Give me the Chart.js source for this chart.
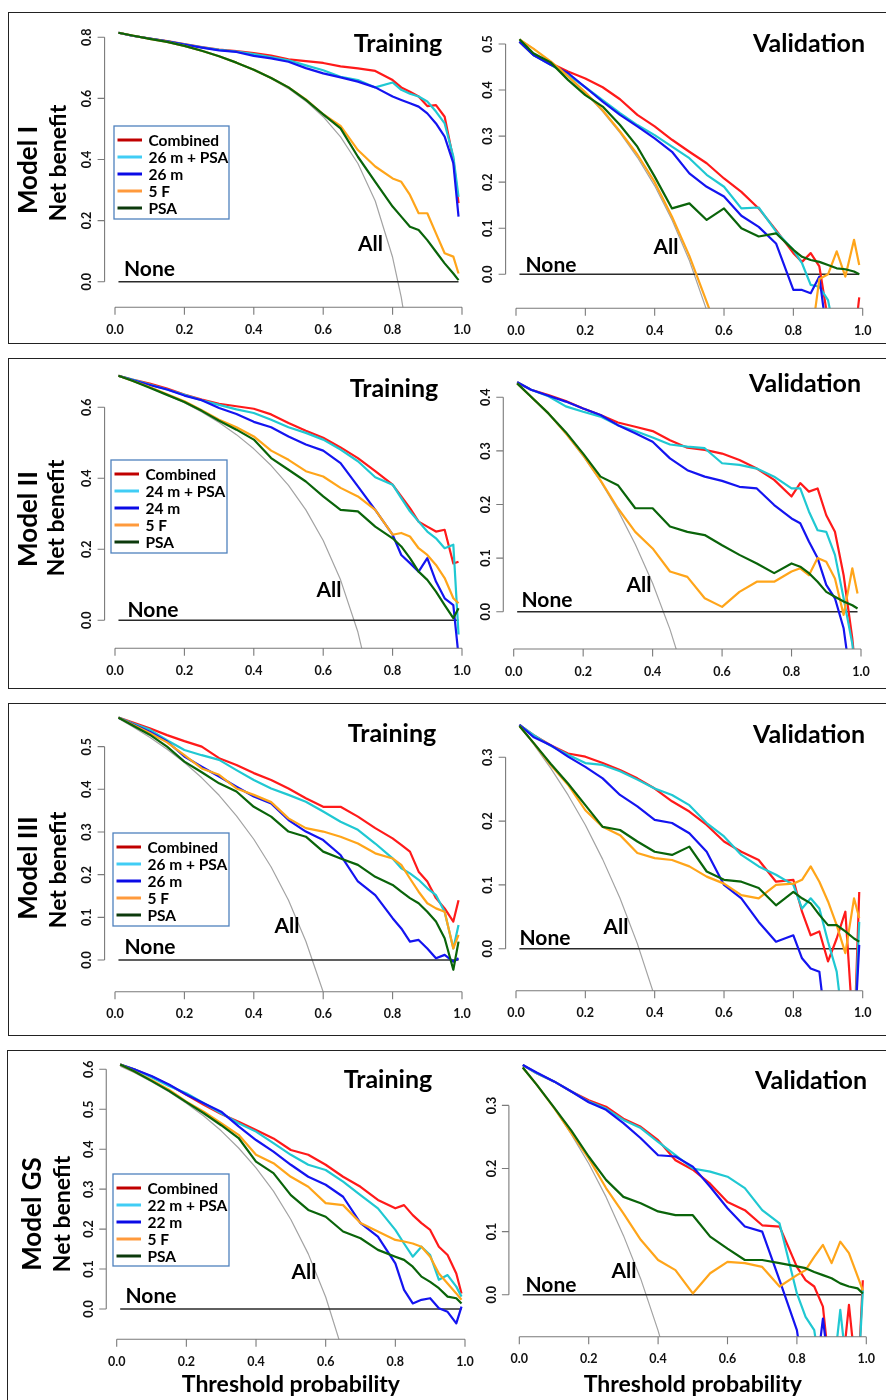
<!DOCTYPE html>
<html>
<head>
<meta charset="utf-8">
<script src="https://cdn.jsdelivr.net/npm/chart.js@4.4.1/dist/chart.umd.min.js"></script>
<style>
  body { margin: 0; background: #fff; width: 886px; height: 1400px; position: relative; overflow: hidden; }
  .box { position: absolute; box-sizing: border-box; border: 1.5px solid #222; width: 900px; }
  canvas { position: absolute; }
</style>
</head>
<body>
<div class="box" style="left:8px;top:12px;height:332px"></div>
<div class="box" style="left:8px;top:358px;height:331px"></div>
<div class="box" style="left:8px;top:703px;height:333px"></div>
<div class="box" style="left:7px;top:1050px;height:380px"></div>

<script>
const thresholds = [0.01, 0.05, 0.1, 0.15, 0.2, 0.25, 0.3, 0.35, 0.4, 0.45, 0.5, 0.55, 0.6, 0.65, 0.7, 0.75, 0.8, 0.825, 0.85, 0.875, 0.9, 0.925, 0.95, 0.975, 0.99];

const xTicks = [0, 0.2, 0.4, 0.6, 0.8, 1.0];
const modelNames = ["Model I", "Model II", "Model III", "Model GS"];
const panelTitles = ["Training", "Validation"];
const legendNames = [
  ["Combined", "26 m + PSA", "26 m", "5 F", "PSA"],
  ["Combined", "24 m + PSA", "24 m", "5 F", "PSA"],
  ["Combined", "26 m + PSA", "26 m", "5 F", "PSA"],
  ["Combined", "22 m + PSA", "22 m", "5 F", "PSA"]
];
const lineColors = ["#ff1a1a", "#20c8d2", "#1414f0", "#ffa51a", "#0a640a"];
const legendColors = ["#c00000", "#40cdf5", "#0a0ae6", "#ff9a3c", "#0c3a0c"];

// "None" reference line
const noneX = [0.01, 0.99];
const noneY = [0, 0];

// Model I
const m1TrainCombined = [0.815,0.805,0.796,0.788,0.778,0.768,0.760,0.755,0.748,0.740,0.728,0.722,0.716,0.705,0.698,0.690,0.660,0.636,0.622,0.606,0.575,0.578,0.540,0.400,0.257];
const m1TrainPlus = [0.815,0.805,0.796,0.787,0.777,0.767,0.759,0.753,0.745,0.735,0.725,0.708,0.692,0.671,0.660,0.636,0.652,0.628,0.615,0.606,0.590,0.557,0.518,0.410,0.278];
const m1TrainM = [0.815,0.805,0.796,0.787,0.776,0.766,0.757,0.752,0.739,0.731,0.720,0.699,0.682,0.669,0.655,0.636,0.606,0.595,0.584,0.573,0.551,0.518,0.475,0.388,0.213];
const m1TrainF = [0.815,0.806,0.795,0.785,0.772,0.756,0.738,0.717,0.694,0.667,0.636,0.597,0.548,0.510,0.431,0.377,0.338,0.327,0.284,0.224,0.224,0.158,0.093,0.082,0.027];
const m1TrainPsa = [0.815,0.806,0.795,0.785,0.772,0.756,0.738,0.717,0.694,0.667,0.636,0.595,0.548,0.502,0.409,0.327,0.246,0.213,0.180,0.169,0.136,0.098,0.060,0.027,0.005];
const m1TrainAll = [0.814,0.806,0.796,0.784,0.770,0.755,0.737,0.717,0.693,0.665,0.632,0.591,0.540,0.474,0.387,0.264,0.080,-0.051,-0.227,null,null,null,null,null,null];

const m1ValCombined = [0.505,0.476,0.458,0.440,0.425,0.406,0.380,0.346,0.321,0.292,0.266,0.241,0.208,0.179,0.143,0.096,0.046,0.027,0.046,0.017,-0.100,-0.150,-0.150,-0.150,-0.050];
const m1ValPlus = [0.505,0.476,0.455,0.433,0.406,0.378,0.350,0.324,0.302,0.277,0.252,0.216,0.190,0.143,0.145,0.093,0.053,0.024,-0.023,-0.027,-0.056,-0.150,-0.150,-0.150,-0.150];
const m1ValM = [0.505,0.476,0.455,0.437,0.406,0.375,0.346,0.321,0.295,0.266,0.219,0.190,0.169,0.127,0.103,0.067,-0.034,-0.034,-0.041,-0.005,-0.150,-0.150,-0.150,-0.150,-0.150];
const m1ValF = [0.510,0.490,0.462,0.430,0.395,0.356,0.310,0.260,0.200,0.125,0.040,-0.060,-0.160,-0.200,-0.200,-0.200,-0.200,-0.200,-0.150,-0.010,0.000,0.050,-0.005,0.075,0.020];
const m1ValPsa = [0.510,0.480,0.460,0.422,0.389,0.364,0.324,0.277,0.212,0.143,0.154,0.118,0.143,0.100,0.082,0.089,0.053,0.038,0.031,0.027,0.020,0.013,0.011,0.006,0.000];
const m1ValAll = [0.510,0.490,0.461,0.429,0.394,0.353,0.307,0.254,0.192,0.118,0.030,-0.078,null,null,null,null,null,null,null,null,null,null,null,null,null];

// Model II
const m2TrainCombined = [0.689,0.678,0.667,0.653,0.636,0.622,0.610,0.603,0.596,0.580,0.556,0.534,0.514,0.487,0.457,0.420,0.382,0.349,0.316,0.278,0.264,0.250,0.255,0.160,0.165];
const m2TrainPlus = [0.689,0.678,0.664,0.650,0.635,0.620,0.607,0.594,0.584,0.565,0.544,0.528,0.509,0.481,0.448,0.403,0.382,0.344,0.307,0.278,0.250,0.231,0.203,0.213,-0.040];
const m2TrainM = [0.689,0.677,0.663,0.650,0.633,0.620,0.598,0.581,0.559,0.544,0.518,0.495,0.478,0.443,0.377,0.311,0.241,0.184,0.161,0.137,0.175,0.109,0.062,0.043,-0.100];
const m2TrainF = [0.689,0.675,0.657,0.637,0.617,0.592,0.565,0.544,0.518,0.478,0.452,0.420,0.405,0.373,0.349,0.311,0.241,0.246,0.236,0.203,0.184,0.156,0.119,0.062,0.048];
const m2TrainPsa = [0.689,0.675,0.655,0.635,0.615,0.590,0.562,0.537,0.509,0.457,0.424,0.391,0.349,0.311,0.307,0.264,0.231,0.208,0.175,0.137,0.114,0.081,0.043,0.006,0.034];
const m2TrainAll = [0.687,0.674,0.656,0.635,0.613,0.587,0.557,0.523,0.483,0.436,0.380,0.311,0.225,0.114,-0.033,-0.240,null,null,null,null,null,null,null,null,null];

const m2ValCombined = [0.428,0.414,0.404,0.393,0.379,0.367,0.353,0.345,0.337,0.320,0.306,0.302,0.295,0.283,0.267,0.246,0.215,0.240,0.224,0.230,0.180,0.149,0.068,-0.050,-0.150];
const m2ValPlus = [0.428,0.414,0.402,0.383,0.373,0.364,0.348,0.337,0.325,0.312,0.308,0.305,0.277,0.274,0.267,0.252,0.230,0.230,0.187,0.152,0.149,0.106,0.025,-0.060,-0.150];
const m2ValM = [0.428,0.414,0.403,0.392,0.379,0.367,0.348,0.333,0.317,0.286,0.264,0.252,0.244,0.233,0.230,0.199,0.174,0.165,0.131,0.100,0.050,0.025,-0.031,-0.150,-0.150];
const m2ValF = [0.426,0.401,0.370,0.333,0.292,0.245,0.193,0.149,0.118,0.075,0.065,0.025,0.009,0.037,0.056,0.056,0.075,0.081,0.068,0.100,0.093,0.062,-0.006,0.081,0.034];
const m2ValPsa = [0.426,0.401,0.370,0.335,0.295,0.252,0.236,0.193,0.193,0.159,0.149,0.143,0.124,0.106,0.090,0.072,0.090,0.084,0.072,0.056,0.037,0.028,0.019,0.012,0.006];
const m2ValAll = [0.426,0.402,0.369,0.332,0.290,0.243,0.189,0.126,0.053,-0.033,-0.136,null,null,null,null,null,null,null,null,null,null,null,null,null,null];

// Model III
const m3TrainCombined = [0.568,0.557,0.543,0.527,0.513,0.500,0.473,0.457,0.438,0.422,0.402,0.379,0.359,0.359,0.336,0.309,0.285,0.270,0.254,0.207,0.184,0.145,0.121,0.090,0.140];
const m3TrainPlus = [0.568,0.555,0.540,0.515,0.492,0.480,0.469,0.445,0.422,0.402,0.387,0.371,0.348,0.324,0.305,0.273,0.238,0.215,0.203,0.188,0.168,0.152,0.113,0.027,0.082];
const m3TrainM = [0.568,0.553,0.535,0.512,0.477,0.453,0.430,0.406,0.383,0.367,0.328,0.301,0.281,0.246,0.184,0.152,0.098,0.074,0.043,0.047,0.027,0.004,0.012,-0.004,0.004];
const m3TrainF = [0.568,0.552,0.532,0.510,0.480,0.449,0.434,0.402,0.387,0.370,0.332,0.309,0.301,0.289,0.273,0.250,0.238,0.223,0.191,0.160,0.133,0.121,0.113,0.027,0.059];
const m3TrainPsa = [0.568,0.550,0.528,0.500,0.465,0.440,0.414,0.395,0.359,0.336,0.301,0.289,0.254,0.238,0.223,0.195,0.176,0.160,0.145,0.133,0.113,0.090,0.051,-0.023,0.043];
const m3TrainAll = [0.566,0.547,0.522,0.494,0.463,0.427,0.386,0.338,0.283,0.218,0.140,0.044,-0.075,-0.229,null,null,null,null,null,null,null,null,null,null,null];

const m3ValCombined = [0.351,0.335,0.319,0.306,0.301,0.291,0.280,0.267,0.251,0.231,0.215,0.194,0.168,0.152,0.139,0.105,0.108,0.058,0.021,0.027,-0.020,0.016,0.058,-0.150,0.089];
const m3ValPlus = [0.351,0.335,0.318,0.304,0.291,0.288,0.278,0.265,0.251,0.241,0.225,0.197,0.176,0.147,0.129,0.116,0.100,0.063,0.079,0.063,0.011,-0.036,-0.150,-0.150,0.042];
const m3ValM = [0.351,0.332,0.319,0.301,0.285,0.267,0.241,0.223,0.202,0.197,0.181,0.152,0.100,0.079,0.042,0.011,0.021,-0.015,-0.031,-0.036,-0.150,-0.150,-0.150,-0.150,0.006];
const m3ValF = [0.349,0.323,0.288,0.257,0.217,0.191,0.178,0.150,0.142,0.139,0.129,0.113,0.102,0.084,0.079,0.100,0.102,0.108,0.129,0.105,0.074,0.037,-0.007,0.079,0.048];
const m3ValPsa = [0.349,0.323,0.290,0.259,0.225,0.191,0.186,0.168,0.152,0.147,0.160,0.121,0.108,0.105,0.095,0.068,0.089,0.079,0.071,0.053,0.037,0.037,0.027,0.016,0.011];
const m3ValAll = [0.349,0.321,0.283,0.241,0.194,0.140,0.079,0.008,-0.075,-0.173,null,null,null,null,null,null,null,null,null,null,null,null,null,null,null];

// Model GS
const m4TrainCombined = [0.612,0.600,0.582,0.561,0.536,0.511,0.488,0.469,0.448,0.427,0.398,0.386,0.361,0.331,0.306,0.273,0.252,0.260,0.235,0.215,0.198,0.156,0.135,0.089,0.039];
const m4TrainPlus = [0.612,0.600,0.580,0.558,0.540,0.515,0.490,0.465,0.444,0.415,0.386,0.361,0.348,0.319,0.285,0.252,0.198,0.164,0.131,0.156,0.135,0.073,0.085,0.056,0.031];
const m4TrainM = [0.612,0.600,0.583,0.562,0.537,0.515,0.494,0.457,0.423,0.394,0.361,0.331,0.311,0.281,0.215,0.181,0.114,0.048,0.014,0.023,0.027,0.002,-0.007,-0.036,0.006];
const m4TrainF = [0.612,0.595,0.573,0.549,0.519,0.494,0.465,0.436,0.386,0.365,0.331,0.306,0.265,0.260,0.215,0.194,0.173,0.169,0.164,0.156,0.131,0.089,0.064,0.039,0.023];
const m4TrainPsa = [0.612,0.595,0.571,0.546,0.518,0.490,0.460,0.428,0.369,0.340,0.285,0.248,0.231,0.194,0.177,0.148,0.131,0.123,0.106,0.081,0.068,0.052,0.031,0.027,0.014];
const m4TrainAll = [0.608,0.592,0.569,0.544,0.515,0.483,0.446,0.403,0.353,0.295,0.224,0.138,0.030,-0.109,null,null,null,null,null,null,null,null,null,null,null];

const m4ValCombined = [0.364,0.351,0.338,0.322,0.308,0.298,0.279,0.266,0.245,0.213,0.198,0.176,0.147,0.134,0.110,0.108,0.044,0.023,0.013,-0.019,-0.150,-0.150,-0.016,-0.150,0.023];
const m4ValPlus = [0.364,0.351,0.338,0.322,0.306,0.295,0.277,0.264,0.242,0.221,0.200,0.195,0.187,0.169,0.134,0.113,0.002,-0.035,-0.056,-0.150,-0.150,-0.024,-0.150,-0.150,0.007];
const m4ValM = [0.364,0.352,0.338,0.322,0.305,0.293,0.272,0.248,0.221,0.219,0.203,0.171,0.137,0.108,0.100,0.023,-0.056,-0.150,-0.150,-0.038,-0.150,-0.150,-0.150,-0.150,-0.150];
const m4ValF = [0.360,0.333,0.296,0.256,0.216,0.169,0.129,0.087,0.055,0.039,0.002,0.034,0.052,0.050,0.044,0.013,0.031,0.039,0.060,0.079,0.050,0.084,0.066,0.029,0.007];
const m4ValPsa = [0.360,0.333,0.297,0.260,0.219,0.182,0.155,0.145,0.132,0.126,0.126,0.092,0.073,0.055,0.055,0.050,0.045,0.042,0.036,0.031,0.026,0.018,0.013,0.010,0.002];
const m4ValAll = [0.360,0.333,0.296,0.254,0.208,0.155,0.094,0.025,-0.057,-0.153,null,null,null,null,null,null,null,null,null,null,null,null,null,null,null];

// y tick values per panel
const yTicks1Train = [0, 0.2, 0.4, 0.6, 0.8];
const yTicks1Val = [0, 0.1, 0.2, 0.3, 0.4, 0.5];
const yTicks2Train = [0, 0.2, 0.4, 0.6];
const yTicks2Val = [0, 0.1, 0.2, 0.3, 0.4];
const yTicks3Train = [0, 0.1, 0.2, 0.3, 0.4, 0.5];
const yTicks3Val = [0, 0.1, 0.2, 0.3];
const yTicks4Train = [0, 0.1, 0.2, 0.3, 0.4, 0.5, 0.6];
const yTicks4Val = [0, 0.1, 0.2, 0.3];

const panels = [
  { row: 0, col: 0, yTicks: yTicks1Train, all: m1TrainAll, series: [m1TrainCombined, m1TrainPlus, m1TrainM, m1TrainF, m1TrainPsa] },
  { row: 0, col: 1, yTicks: yTicks1Val, all: m1ValAll, series: [m1ValCombined, m1ValPlus, m1ValM, m1ValF, m1ValPsa] },
  { row: 1, col: 0, yTicks: yTicks2Train, all: m2TrainAll, series: [m2TrainCombined, m2TrainPlus, m2TrainM, m2TrainF, m2TrainPsa] },
  { row: 1, col: 1, yTicks: yTicks2Val, all: m2ValAll, series: [m2ValCombined, m2ValPlus, m2ValM, m2ValF, m2ValPsa] },
  { row: 2, col: 0, yTicks: yTicks3Train, all: m3TrainAll, series: [m3TrainCombined, m3TrainPlus, m3TrainM, m3TrainF, m3TrainPsa] },
  { row: 2, col: 1, yTicks: yTicks3Val, all: m3ValAll, series: [m3ValCombined, m3ValPlus, m3ValM, m3ValF, m3ValPsa] },
  { row: 3, col: 0, yTicks: yTicks4Train, all: m4TrainAll, series: [m4TrainCombined, m4TrainPlus, m4TrainM, m4TrainF, m4TrainPsa] },
  { row: 3, col: 1, yTicks: yTicks4Val, all: m4ValAll, series: [m4ValCombined, m4ValPlus, m4ValM, m4ValF, m4ValPsa] }
];

// page geometry (pixels): where x=0 and x=1 land, where y=0 lands, px per unit, x-axis line
const rowGeom = [
  { top: 14, h: 328, legend: [114, 126, 115, 93], model: [37, 170], net: [66, 163] },
  { top: 360, h: 327, legend: [111, 460, 116, 93], model: [37, 519], net: [64, 518] },
  { top: 705, h: 329, legend: [113, 833, 116, 93], model: [37, 868], net: [66, 870] },
  { top: 1052, h: 348, legend: [113, 1174, 116, 92], model: [41, 1214], net: [70, 1214] }
];
const panelGeom = [
  { px0: 115, px1: 462, y0: 281.7, ppu: 305.5, ay: 307.3, ymax: 0.85, title: [398, 52], none: [149.5, 276], all: [370.5, 250.5] },
  { px0: 516, px1: 862.7, y0: 274.3, ppu: 460.7, ay: 308.3, ymax: 0.53, title: [809, 52], none: [551, 271.5], all: [666, 253.5] },
  { px0: 115, px1: 462, y0: 620.3, ppu: 355, ay: 648.3, ymax: 0.72, title: [394, 396.5], none: [153, 616.5], all: [329, 596.5] },
  { px0: 513.7, px1: 861, y0: 611.7, ppu: 536, ay: 649, ymax: 0.45, title: [805, 392], none: [547, 606.5], all: [639, 592] },
  { px0: 115, px1: 462, y0: 960, ppu: 426.7, ay: 991.7, ymax: 0.59, title: [392, 741.5], none: [150, 954], all: [287, 933] },
  { px0: 516, px1: 862.7, y0: 948.7, ppu: 638, ay: 990.7, ymax: 0.37, title: [809, 743], none: [545, 945], all: [616, 933.5] },
  { px0: 116.7, px1: 465, y0: 1309, ppu: 399.5, ay: 1339.3, ymax: 0.63, title: [388, 1088], none: [151, 1302.5], all: [304, 1279] },
  { px0: 519.3, px1: 866.3, y0: 1294.7, ppu: 631, ay: 1336.7, ymax: 0.38, title: [811, 1089], none: [551, 1291.5], all: [624, 1278] }
];
const colCanvas = [{ left: 10, w: 464 }, { left: 474, w: 410 }];

const FONT = "Lato, 'Open Sans', sans-serif";

function pts(arr) {
  return thresholds.map((t, i) => ({ x: t, y: arr[i] }));
}

const decor = {
  id: 'decor',
  afterDraw(chart, args, o) {
    const ctx = chart.ctx, xs = chart.scales.x, ys = chart.scales.y;
    const ox = o.cx, oy = o.cy;
    ctx.save();

    // axes, R style: line spans first to last tick
    ctx.strokeStyle = '#7a7a7a';
    ctx.lineWidth = 1.1;
    const axX = xs.getPixelForValue(-0.03);
    const axY = chart.chartArea.bottom;
    ctx.beginPath();
    ctx.moveTo(axX, ys.getPixelForValue(o.yTicks[0]));
    ctx.lineTo(axX, ys.getPixelForValue(o.yTicks[o.yTicks.length - 1]));
    o.yTicks.forEach(v => {
      const py = ys.getPixelForValue(v);
      ctx.moveTo(axX - 7, py); ctx.lineTo(axX, py);
    });
    ctx.moveTo(xs.getPixelForValue(xTicks[0]), axY);
    ctx.lineTo(xs.getPixelForValue(xTicks[xTicks.length - 1]), axY);
    xTicks.forEach(v => {
      const px = xs.getPixelForValue(v);
      ctx.moveTo(px, axY); ctx.lineTo(px, axY + 7.5);
    });
    ctx.stroke();

    ctx.fillStyle = '#111';
    ctx.font = 'bold 12.5px ' + FONT;
    ctx.textAlign = 'center';
    ctx.textBaseline = 'alphabetic';
    xTicks.forEach(v => {
      ctx.fillText(v.toFixed(1), xs.getPixelForValue(v), axY + 26.5);
    });
    o.yTicks.forEach(v => {
      ctx.save();
      ctx.translate(axX - 13.3, ys.getPixelForValue(v));
      ctx.rotate(-Math.PI / 2);
      ctx.fillText(v.toFixed(1), 0, 0);
      ctx.restore();
    });

    // panel title, None, All
    ctx.fillStyle = '#000';
    ctx.font = 'bold 25px ' + FONT;
    ctx.fillText(o.title, o.geom.title[0] - ox, o.geom.title[1] - oy);
    ctx.font = 'bold 21px ' + FONT;
    ctx.fillText('None', o.geom.none[0] - ox, o.geom.none[1] - oy);
    ctx.fillText('All', o.geom.all[0] - ox, o.geom.all[1] - oy);

    if (o.xLabel) {
      ctx.font = 'bold 23px ' + FONT;
      ctx.fillText(o.xLabel, (xs.getPixelForValue(0) + xs.getPixelForValue(1)) / 2, 1392 - oy);
    }

    if (o.rowLabel) {
      const g = o.rowGeom;
      ctx.save();
      ctx.translate(g.model[0] - ox, g.model[1] - oy);
      ctx.rotate(-Math.PI / 2);
      ctx.font = 'bold 26px ' + FONT;
      ctx.fillText(o.rowLabel, 0, 0);
      ctx.restore();
      ctx.save();
      ctx.translate(g.net[0] - ox, g.net[1] - oy);
      ctx.rotate(-Math.PI / 2);
      ctx.font = 'bold 23px ' + FONT;
      ctx.fillText('Net benefit', 0, 0);
      ctx.restore();

      // legend box
      const [lx, ly, lw, lh] = g.legend;
      const bx = lx - ox, by = ly - oy;
      ctx.fillStyle = '#fff';
      ctx.fillRect(bx, by, lw, lh);
      ctx.strokeStyle = '#4f81bd';
      ctx.lineWidth = 1.3;
      ctx.strokeRect(bx, by, lw, lh);
      ctx.font = 'bold 15.5px ' + FONT;
      ctx.textAlign = 'left';
      const items = chart.data.datasets.filter(d => d.legendColor);
      items.forEach((d, i) => {
        const cy = by + 14 + i * 17;
        ctx.strokeStyle = d.legendColor;
        ctx.lineWidth = 3;
        ctx.beginPath();
        ctx.moveTo(bx + 3.5, cy); ctx.lineTo(bx + 28, cy);
        ctx.stroke();
        ctx.fillStyle = '#000';
        ctx.fillText(d.label, bx + 34.5, cy + 5.5);
      });
    }
    ctx.restore();
  }
};

panels.forEach((p, k) => {
  const rg = rowGeom[p.row], cg = colCanvas[p.col], g = panelGeom[k];
  const canvas = document.createElement('canvas');
  canvas.width = cg.w; canvas.height = rg.h;
  canvas.style.left = cg.left + 'px';
  canvas.style.top = rg.top + 'px';
  canvas.style.width = cg.w + 'px';
  canvas.style.height = rg.h + 'px';
  document.body.appendChild(canvas);

  const yTopPx = g.y0 - g.ymax * g.ppu;
  const padding = {
    left: g.px0 - cg.left,
    right: cg.left + cg.w - g.px1,
    top: yTopPx - rg.top,
    bottom: rg.top + rg.h - g.ay
  };
  const yMin = (g.y0 - g.ay) / g.ppu;

  const datasets = [
    { label: 'All', data: pts(p.all), borderColor: '#a3a3a3', borderWidth: 1.2, order: 10 },
    { label: 'None', data: noneX.map((x, i) => ({ x: x, y: noneY[i] })), borderColor: '#2a2a2a', borderWidth: 1.6, order: 9 }
  ];
  p.series.forEach((s, i) => {
    datasets.push({
      label: legendNames[p.row][i],
      data: pts(s),
      borderColor: lineColors[i],
      legendColor: legendColors[i],
      borderWidth: 2.2,
      order: 5 - i
    });
  });

  new Chart(canvas, {
    type: 'line',
    data: { datasets: datasets },
    options: {
      responsive: false,
      animation: false,
      devicePixelRatio: 1,
      layout: { padding: padding },
      elements: { point: { radius: 0 }, line: { tension: 0, borderJoinStyle: 'round' } },
      scales: {
        x: { type: 'linear', min: 0, max: 1, display: false },
        y: { type: 'linear', min: yMin, max: g.ymax, display: false }
      },
      plugins: {
        legend: { display: false },
        tooltip: { enabled: false },
        decor: {
          cx: cg.left, cy: rg.top,
          yTicks: p.yTicks,
          title: panelTitles[p.col],
          geom: g,
          rowGeom: rg,
          rowLabel: p.col === 0 ? modelNames[p.row] : null,
          xLabel: p.row === 3 ? 'Threshold probability' : null
        }
      }
    },
    plugins: [decor]
  });
});
</script>
</body>
</html>
